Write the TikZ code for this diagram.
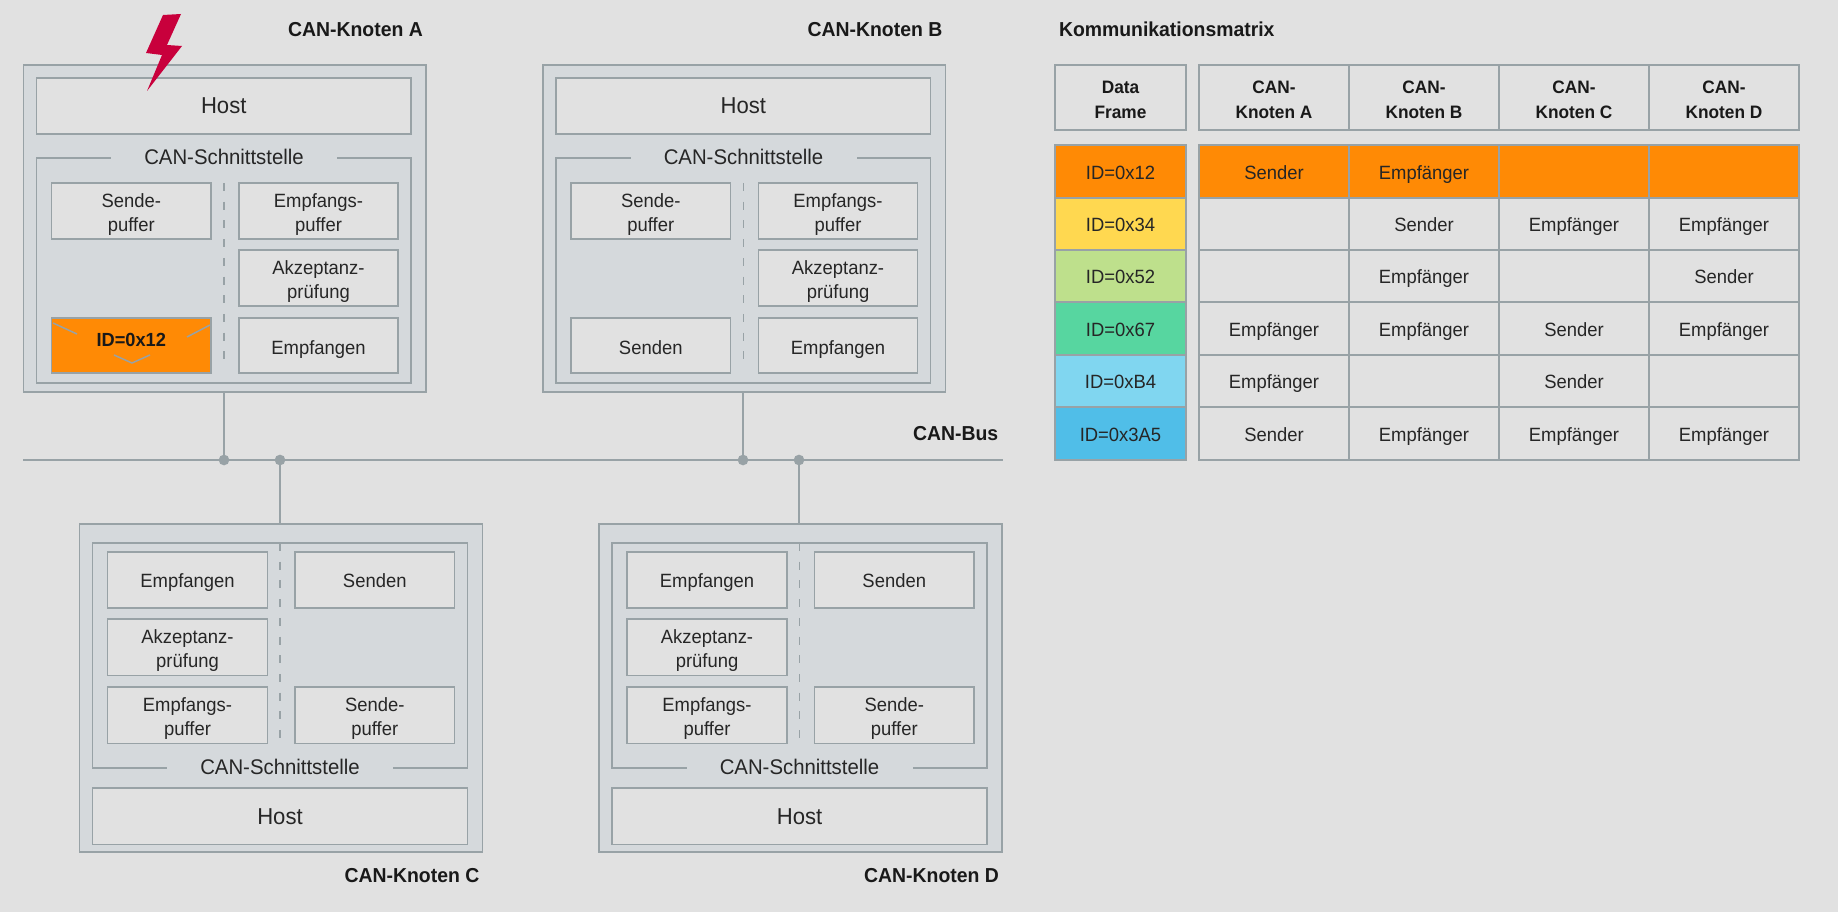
\documentclass[tikz,border=0pt]{standalone}
\usepackage{fontspec}
\setmainfont[FakeStretch=0.96]{Liberation Sans}
\definecolor{bgc}{HTML}{E1E1E1}
\definecolor{panel}{HTML}{D5D9DC}
\definecolor{stk}{HTML}{98A2A6}
\definecolor{txt}{HTML}{262626}
\definecolor{oran}{HTML}{FF8A05}
\definecolor{yell}{HTML}{FFD850}
\definecolor{gren}{HTML}{BEE08C}
\definecolor{teal2}{HTML}{57D6A0}
\definecolor{lblu}{HTML}{80D6F0}
\definecolor{dblu}{HTML}{50BEE8}
\definecolor{bolt}{HTML}{C8003C}
\newcommand{\bx}[7]{\node[#6,minimum width={(#4-#2)*1pt},minimum height={(#5-#3)*1pt}] (#1) at ({(#2+#4)/2},{(#3+#5)/2}) {#7};}
\newcommand{\lowtxt}[1]{\smash{\raisebox{-1pt}{#1}}}
\newcommand{\sta}{\rule{0pt}{20.5pt}}
\newcommand{\stb}{\rule[-5pt]{0pt}{5pt}}
\newcommand{\tw}[2]{\rule{0pt}{21.5pt}#1\\#2}
\newcommand{\hw}[2]{\rule{0pt}{22pt}#1\\#2}
\tikzset{
  x=1pt,y=-1pt,
  every node/.style={inner sep=0pt,outer sep=0pt,text=txt},
  lined/.style={execute at begin node=\sta,execute at end node=\stb},
  plainb/.style={draw=stk,line width=1.8pt,align=center},
  boxb/.style={plainb,lined,font=\fontsize{19.2}{23.8}\selectfont},
  outerb/.style={plainb,fill=panel},
  ifaceb/.style={plainb,fill=panel},
  cellb/.style={boxb,fill=bgc},
  hostb/.style={cellb,font=\fontsize{23}{25}\selectfont},
  iflabel/.style={lined,fill=panel,minimum width=226pt,minimum height=20pt,font=\fontsize{21.2}{24}\selectfont},
  titleb/.style={lined,font=\bfseries\fontsize{20.2}{24}\selectfont,text=black!90},
  headb/.style={cellb,font=\bfseries\fontsize{18}{24.6}\selectfont,text=black!90},
  divider/.style={draw=stk,line width=1.4pt,dash pattern=on 8pt off 10.7pt},
  wire/.style={draw=stk,line width=1.8pt},
  tap/.style={circle,fill=stk,minimum size=10.7pt},
}
\newcommand{\topnode}[2]{%
\begin{scope}[shift={(#2,0)}]
\bx{#1out}{23.5}{65}{426}{392}{outerb}{}
\bx{#1host}{36.5}{78}{411}{134}{hostb}{Host}
\bx{#1if}{36.5}{158}{411}{383}{ifaceb}{}
\node[iflabel] (#1lab) at (224,157) {CAN-Schnittstelle};
\coordinate (#1da) at (224,183);
\coordinate (#1db) at (224,360);
\draw[divider] (#1da) -- (#1db);
\bx{#1sp}{51.5}{183}{211}{239}{cellb}{\tw{Sende-}{puffer}}
\bx{#1ep}{239}{183}{398}{239}{cellb}{\tw{Empfangs-}{puffer}}
\bx{#1ak}{239}{250}{398}{306}{cellb}{\tw{Akzeptanz-}{prüfung}}
\bx{#1em}{239}{318}{398}{373}{cellb}{\lowtxt{Empfangen}}
\end{scope}}
\newcommand{\botnode}[2]{%
\begin{scope}[shift={(#2,0)}]
\bx{#1out}{79.5}{524}{482.5}{852}{outerb}{}
\bx{#1if}{92.5}{543}{467.5}{768}{ifaceb}{}
\node[iflabel] (#1lab) at (280,767) {CAN-Schnittstelle};
\bx{#1host}{92.5}{788}{467.5}{844.5}{hostb}{Host}
\coordinate (#1da) at (280,543);
\coordinate (#1db) at (280,740);
\draw[divider] (#1da) -- (#1db);
\bx{#1em}{107.5}{552}{267.5}{608}{cellb}{Empfangen}
\bx{#1ak}{107.5}{619}{267.5}{675.5}{cellb}{\tw{Akzeptanz-}{prüfung}}
\bx{#1ep}{107.5}{687}{267.5}{743.5}{cellb}{\tw{Empfangs-}{puffer}}
\bx{#1se}{295}{552}{454.5}{608}{cellb}{Senden}
\bx{#1sp}{295}{687}{454.5}{743.5}{cellb}{\tw{Sende-}{puffer}}
\end{scope}}
\begin{document}
\begin{tikzpicture}
\path[use as bounding box,fill=bgc] (0,0) rectangle (1838,912);
% CAN nodes
\topnode{a}{0}
\topnode{b}{519.5}
\botnode{c}{0}
\botnode{d}{519.5}
\bx{asend}{51.5}{318}{211}{373}{cellb,fill=oran,font=\bfseries\fontsize{19}{22.6}\selectfont,text=black!90}{\smash{\raisebox{6.5pt}{ID=0x12}}}
\begin{scope}[shift={(519.5,0)}]
\bx{bsend}{51.5}{318}{211}{373}{cellb}{\lowtxt{Senden}}
\end{scope}
% envelope marks
\coordinate (e1) at (53,323); \coordinate (e2) at (77,334);
\coordinate (e3) at (210,325); \coordinate (e4) at (187,337);
\coordinate (e5) at (114,355); \coordinate (e6) at (132,363); \coordinate (e7) at (150,355);
\draw[stk,line width=1.5pt] (e1) -- (e2) (e3) -- (e4) (e5) -- (e6) -- (e7);
% titles
\node[titleb] (ta) at (355.5,28.5) {CAN-Knoten A};
\node[titleb] (tb) at (875,28.5) {CAN-Knoten B};
\node[titleb] (tc) at (412,875) {CAN-Knoten C};
\node[titleb] (td) at (931.5,875) {CAN-Knoten D};
\node[titleb] (tbus) at (955.7,433) {CAN-Bus};
\node[titleb,anchor=west] (tm) at (1059,28.5) {Kommunikationsmatrix};
% bus
\coordinate (busL) at (23,460);
\coordinate (busR) at (1003,460);
\draw[wire] (busL) -- (busR);
\node[tap] (busA) at (224,460) {};
\node[tap] (busC) at (280,460) {};
\node[tap] (busB) at (743,460) {};
\node[tap] (busD) at (799,460) {};
\draw[wire] (busA.center) -- (busA |- aout.south);
\draw[wire] (busB.center) -- (busB |- bout.south);
\draw[wire] (busC.center) -- (busC |- cout.north);
\draw[wire] (busD.center) -- (busD |- dout.north);
% table header
\bx{hdf}{1055}{65}{1186}{130}{headb}{\hw{Data}{Frame}}
\bx{hda}{1199}{65}{1349}{130}{headb}{\hw{CAN-}{Knoten A}}
\bx{hdb}{1349}{65}{1499}{130}{headb}{\hw{CAN-}{Knoten B}}
\bx{hdc}{1499}{65}{1649}{130}{headb}{\hw{CAN-}{Knoten C}}
\bx{hdd}{1649}{65}{1799}{130}{headb}{\hw{CAN-}{Knoten D}}
% id column
\bx{id1}{1055}{145}{1186}{197.7}{cellb,fill=oran}{ID=0x12}
\bx{id2}{1055}{197.7}{1186}{250}{cellb,fill=yell}{ID=0x34}
\bx{id3}{1055}{250}{1186}{302.3}{cellb,fill=gren}{ID=0x52}
\bx{id4}{1055}{302.3}{1186}{355}{cellb,fill=teal2}{ID=0x67}
\bx{id5}{1055}{355}{1186}{407.3}{cellb,fill=lblu}{ID=0xB4}
\bx{id6}{1055}{407.3}{1186}{460}{cellb,fill=dblu}{ID=0x3A5}
% matrix
\bx{m1a}{1199}{145}{1349}{197.7}{cellb,fill=oran}{Sender}
\bx{m1b}{1349}{145}{1499}{197.7}{cellb,fill=oran}{Empfänger}
\bx{m1c}{1499}{145}{1649}{197.7}{cellb,fill=oran}{}
\bx{m1d}{1649}{145}{1799}{197.7}{cellb,fill=oran}{}
\bx{m2a}{1199}{197.7}{1349}{250}{cellb}{}
\bx{m2b}{1349}{197.7}{1499}{250}{cellb}{Sender}
\bx{m2c}{1499}{197.7}{1649}{250}{cellb}{Empfänger}
\bx{m2d}{1649}{197.7}{1799}{250}{cellb}{Empfänger}
\bx{m3a}{1199}{250}{1349}{302.3}{cellb}{}
\bx{m3b}{1349}{250}{1499}{302.3}{cellb}{Empfänger}
\bx{m3c}{1499}{250}{1649}{302.3}{cellb}{}
\bx{m3d}{1649}{250}{1799}{302.3}{cellb}{Sender}
\bx{m4a}{1199}{302.3}{1349}{355}{cellb}{Empfänger}
\bx{m4b}{1349}{302.3}{1499}{355}{cellb}{Empfänger}
\bx{m4c}{1499}{302.3}{1649}{355}{cellb}{Sender}
\bx{m4d}{1649}{302.3}{1799}{355}{cellb}{Empfänger}
\bx{m5a}{1199}{355}{1349}{407.3}{cellb}{Empfänger}
\bx{m5b}{1349}{355}{1499}{407.3}{cellb}{}
\bx{m5c}{1499}{355}{1649}{407.3}{cellb}{Sender}
\bx{m5d}{1649}{355}{1799}{407.3}{cellb}{}
\bx{m6a}{1199}{407.3}{1349}{460}{cellb}{Sender}
\bx{m6b}{1349}{407.3}{1499}{460}{cellb}{Empfänger}
\bx{m6c}{1499}{407.3}{1649}{460}{cellb}{Empfänger}
\bx{m6d}{1649}{407.3}{1799}{460}{cellb}{Empfänger}
% lightning
\fill[bolt] (163,15) -- (181,14) -- (167,45) -- (182,46) -- (147,91) -- (162,55) -- (146,53) -- cycle;
\end{tikzpicture}
\end{document}
